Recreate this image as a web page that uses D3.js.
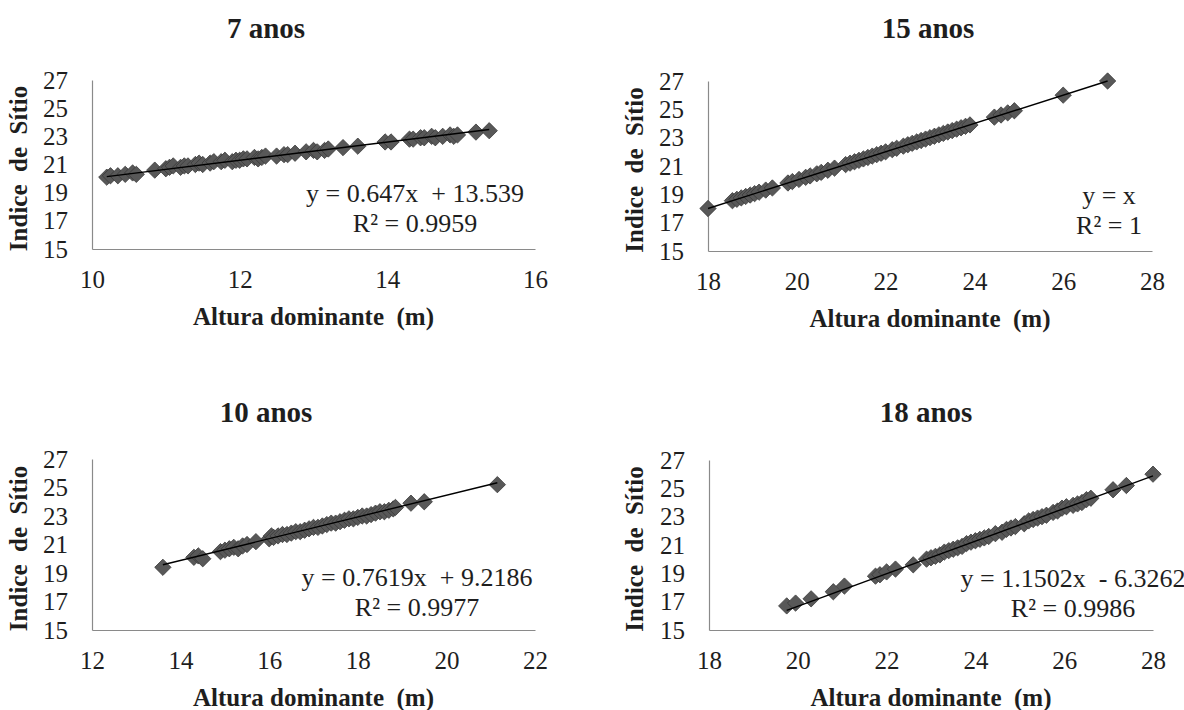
<!DOCTYPE html>
<html>
<head>
<meta charset="utf-8">
<script src="https://cdn.jsdelivr.net/npm/d3@7"></script>
</head>
<body style="margin:0">
<svg id="chart" width="1184" height="710"></svg>
<script>
// ---- Data -------------------------------------------------------------
const panelTitles = ["7 anos", "15 anos", "10 anos", "18 anos"];
const xDomains = [[10, 16], [18, 28], [12, 22], [18, 28]];
const xTickStep = 2;
const yDomain = [15, 27];
const yTickValues = [15, 17, 19, 21, 23, 25, 27];
const xLabel = "Altura dominante \u00a0(m)";
const yLabel = "Indice \u00a0de \u00a0Sítio";

// 7 anos
const altura7 = [10.2, 10.25, 10.35, 10.45, 10.55, 10.6, 10.85, 11.0, 11.05, 11.1, 11.2, 11.25, 11.3, 11.4, 11.45, 11.5,
  11.6, 11.65, 11.75, 11.8, 11.9, 11.95, 12.0, 12.05, 12.1, 12.2, 12.25, 12.3, 12.35, 12.5, 12.6, 12.65, 12.75, 12.9,
  13.0, 13.05, 13.15, 13.2, 13.4, 13.6, 13.97, 14.05, 14.3, 14.35, 14.45, 14.5, 14.6, 14.65, 14.75, 14.85, 14.9, 14.95,
  15.2, 15.38];
const indice7 = [20.1, 20.2, 20.2, 20.3, 20.4, 20.3, 20.6, 20.7, 20.8, 20.9, 20.8, 20.9, 20.9, 21.0, 21.1, 21.0,
  21.1, 21.2, 21.2, 21.3, 21.2, 21.3, 21.3, 21.4, 21.4, 21.5, 21.4, 21.5, 21.6, 21.6, 21.7, 21.7, 21.8, 21.9,
  22.0, 21.9, 22.0, 22.1, 22.2, 22.3, 22.6, 22.6, 22.8, 22.8, 22.9, 22.9, 23.0, 22.9, 23.0, 23.1, 23.0, 23.1,
  23.3, 23.4];

// 15 anos
const altura15 = [18.0, 18.55, 18.65, 18.75, 18.85, 18.95, 19.05, 19.15, 19.3, 19.45, 19.8, 19.9, 20.05, 20.2, 20.3,
  20.45, 20.55, 20.7, 20.85, 21.1, 21.2, 21.3, 21.4, 21.5, 21.6, 21.7, 21.8, 21.9, 22.0, 22.15, 22.25, 22.4, 22.5,
  22.6, 22.7, 22.8, 22.9, 23.0, 23.1, 23.2, 23.3, 23.4, 23.5, 23.6, 23.7, 23.8, 23.9, 24.45, 24.6, 24.75, 24.9,
  26.0, 27.0];
const indice15 = [18.0, 18.55, 18.65, 18.75, 18.85, 18.95, 19.05, 19.15, 19.3, 19.45, 19.8, 19.9, 20.05, 20.2, 20.3,
  20.45, 20.55, 20.7, 20.85, 21.1, 21.2, 21.3, 21.4, 21.5, 21.6, 21.7, 21.8, 21.9, 22.0, 22.15, 22.25, 22.4, 22.5,
  22.6, 22.7, 22.8, 22.9, 23.0, 23.1, 23.2, 23.3, 23.4, 23.5, 23.6, 23.7, 23.8, 23.9, 24.45, 24.6, 24.75, 24.9,
  26.0, 27.0];

// 10 anos
const altura10 = [13.6, 14.3, 14.4, 14.5, 14.9, 15.0, 15.1, 15.2, 15.3, 15.4, 15.5, 15.7, 16.0, 16.05, 16.1, 16.2,
  16.3, 16.4, 16.5, 16.6, 16.7, 16.8, 16.9, 17.0, 17.1, 17.2, 17.3, 17.4, 17.5, 17.6, 17.7, 17.8, 17.9, 18.0, 18.1,
  18.2, 18.3, 18.4, 18.5, 18.6, 18.7, 18.8, 18.85, 19.2, 19.5, 21.15];
const indice10 = [19.4, 20.1, 20.2, 20.0, 20.5, 20.6, 20.7, 20.8, 20.7, 20.9, 21.0, 21.2, 21.4, 21.6, 21.5, 21.6,
  21.7, 21.7, 21.8, 21.9, 21.9, 22.0, 22.1, 22.2, 22.2, 22.3, 22.4, 22.5, 22.5, 22.6, 22.7, 22.8, 22.8, 22.9, 23.0,
  23.0, 23.1, 23.2, 23.3, 23.3, 23.4, 23.5, 23.6, 23.9, 24.0, 25.2];

// 18 anos
const altura18 = [19.75, 19.95, 20.3, 20.8, 21.05, 21.75, 21.85, 22.0, 22.2, 22.6, 22.9, 23.0, 23.1, 23.2, 23.3, 23.4,
  23.5, 23.6, 23.7, 23.8, 23.9, 24.0, 24.1, 24.2, 24.3, 24.45, 24.6, 24.7, 24.8, 24.9, 25.1, 25.2, 25.3, 25.4, 25.5,
  25.6, 25.75, 25.85, 25.95, 26.05, 26.2, 26.3, 26.4, 26.5, 26.6, 27.1, 27.4, 28.0];
const indice18 = [16.7, 16.9, 17.2, 17.7, 18.1, 18.8, 18.9, 19.1, 19.3, 19.6, 20.0, 20.1, 20.2, 20.3, 20.5, 20.6,
  20.7, 20.8, 20.9, 21.1, 21.2, 21.3, 21.4, 21.5, 21.6, 21.8, 21.9, 22.1, 22.2, 22.3, 22.5, 22.7, 22.8, 22.9, 23.0,
  23.1, 23.3, 23.4, 23.6, 23.7, 23.8, 23.9, 24.0, 24.2, 24.3, 24.9, 25.2, 26.0];

const alturas = [altura7, altura15, altura10, altura18];
const indices = [indice7, indice15, indice10, indice18];

// Linear trendline coefficients and fit quality
const trendSlope = [0.647, 1, 0.7619, 1.1502];
const trendIntercept = [13.539, 0, 9.2186, -6.3262];
const trendR2 = ["0.9959", "1", "0.9977", "0.9986"];

// ---- Layout -----------------------------------------------------------
const layout = [
  { left: 92,  right: 535,  top: 80,  bottom: 249, titleX: 266, titleY: 28,  eqX: 415,  eqY: 193, yLabX: 27 },
  { left: 708, right: 1152, top: 81,  bottom: 251, titleX: 928, titleY: 28,  eqX: 1109, eqY: 195, yLabX: 643 },
  { left: 92,  right: 535,  top: 459, bottom: 630, titleX: 266, titleY: 412, eqX: 417,  eqY: 577, yLabX: 27 },
  { left: 709, right: 1153, top: 460, bottom: 630, titleX: 926, titleY: 412, eqX: 1073, eqY: 578, yLabX: 643 }
];

const FONT = "'Liberation Serif', monospace";
const textColor = "#1e1e1e";
const axisColor = "#8a8a8a";
const markerFill = "#585858";
const markerStroke = "#3a3a3a";

const svg = d3.select("#chart");
const diamond = d3.symbol().type(d3.symbolDiamond2).size(170);

function equationText(m, b) {
  if (m === 1 && b === 0) return "y = x";
  const sign = b < 0 ? "-" : "+";
  return `y = ${m}x \u00a0${sign} ${Math.abs(b)}`;
}

// every text node gets the serif face directly
function serifText(sel, size, weight) {
  return sel.attr("font-family", FONT).style("font-family", FONT)
    .attr("font-size", size).attr("font-weight", weight || "normal")
    .attr("fill", textColor);
}

layout.forEach((p, i) => {
  const g = svg.append("g");
  const x = d3.scaleLinear().domain(xDomains[i]).range([p.left, p.right]);
  const y = d3.scaleLinear().domain(yDomain).range([p.bottom, p.top]);
  const xTicks = d3.range(xDomains[i][0], xDomains[i][1] + 0.001, xTickStep);

  // axes: plain gray lines, no tick marks
  const gx = g.append("g")
    .attr("transform", `translate(0,${p.bottom})`)
    .call(d3.axisBottom(x).tickValues(xTicks).tickSize(0).tickPadding(21).tickFormat(d3.format("d")));
  const gy = g.append("g")
    .attr("transform", `translate(${p.left},0)`)
    .call(d3.axisLeft(y).tickValues(yTickValues).tickSize(0).tickPadding(24).tickFormat(d3.format("d")));
  [gx, gy].forEach(a => {
    a.attr("font-family", FONT).attr("font-size", 25);
    a.select(".domain").attr("stroke", axisColor).attr("stroke-width", 1.2);
    serifText(a.selectAll("text"), 25);
  });

  // points
  const pts = alturas[i].map((h, k) => [h, indices[i][k]]);
  g.append("g").selectAll("path")
    .data(pts)
    .join("path")
    .attr("d", diamond)
    .attr("transform", d => `translate(${x(d[0])},${y(d[1])})`)
    .attr("fill", markerFill)
    .attr("stroke", markerStroke)
    .attr("stroke-width", 0.8);

  // linear trendline across the data range
  const [x0, x1] = d3.extent(alturas[i]);
  const f = v => trendSlope[i] * v + trendIntercept[i];
  g.append("line")
    .attr("x1", x(x0)).attr("y1", y(f(x0)))
    .attr("x2", x(x1)).attr("y2", y(f(x1)))
    .attr("stroke", "#000").attr("stroke-width", 1.4);

  // equation and R²
  const eqLines = [equationText(trendSlope[i], trendIntercept[i]), `R² = ${trendR2[i]}`];
  serifText(g.selectAll(null).data(eqLines).join("text"), 26)
    .attr("x", p.eqX).attr("y", (d, k) => p.eqY + 9 + k * 30)
    .attr("text-anchor", "middle")
    .text(d => d);

  // title
  serifText(g.append("text"), 29, "bold")
    .attr("x", p.titleX).attr("y", p.titleY + 10)
    .attr("text-anchor", "middle")
    .text(panelTitles[i]);

  // axis titles
  serifText(g.append("text"), 25, "bold")
    .attr("x", (p.left + p.right) / 2).attr("y", p.bottom + 76)
    .attr("text-anchor", "middle")
    .text(xLabel);
  serifText(g.append("text"), 25, "bold")
    .attr("transform", `translate(${p.yLabX},${(p.top + p.bottom) / 2 + 4}) rotate(-90)`)
    .attr("text-anchor", "middle")
    .text(yLabel);
});
</script>
</body>
</html>
